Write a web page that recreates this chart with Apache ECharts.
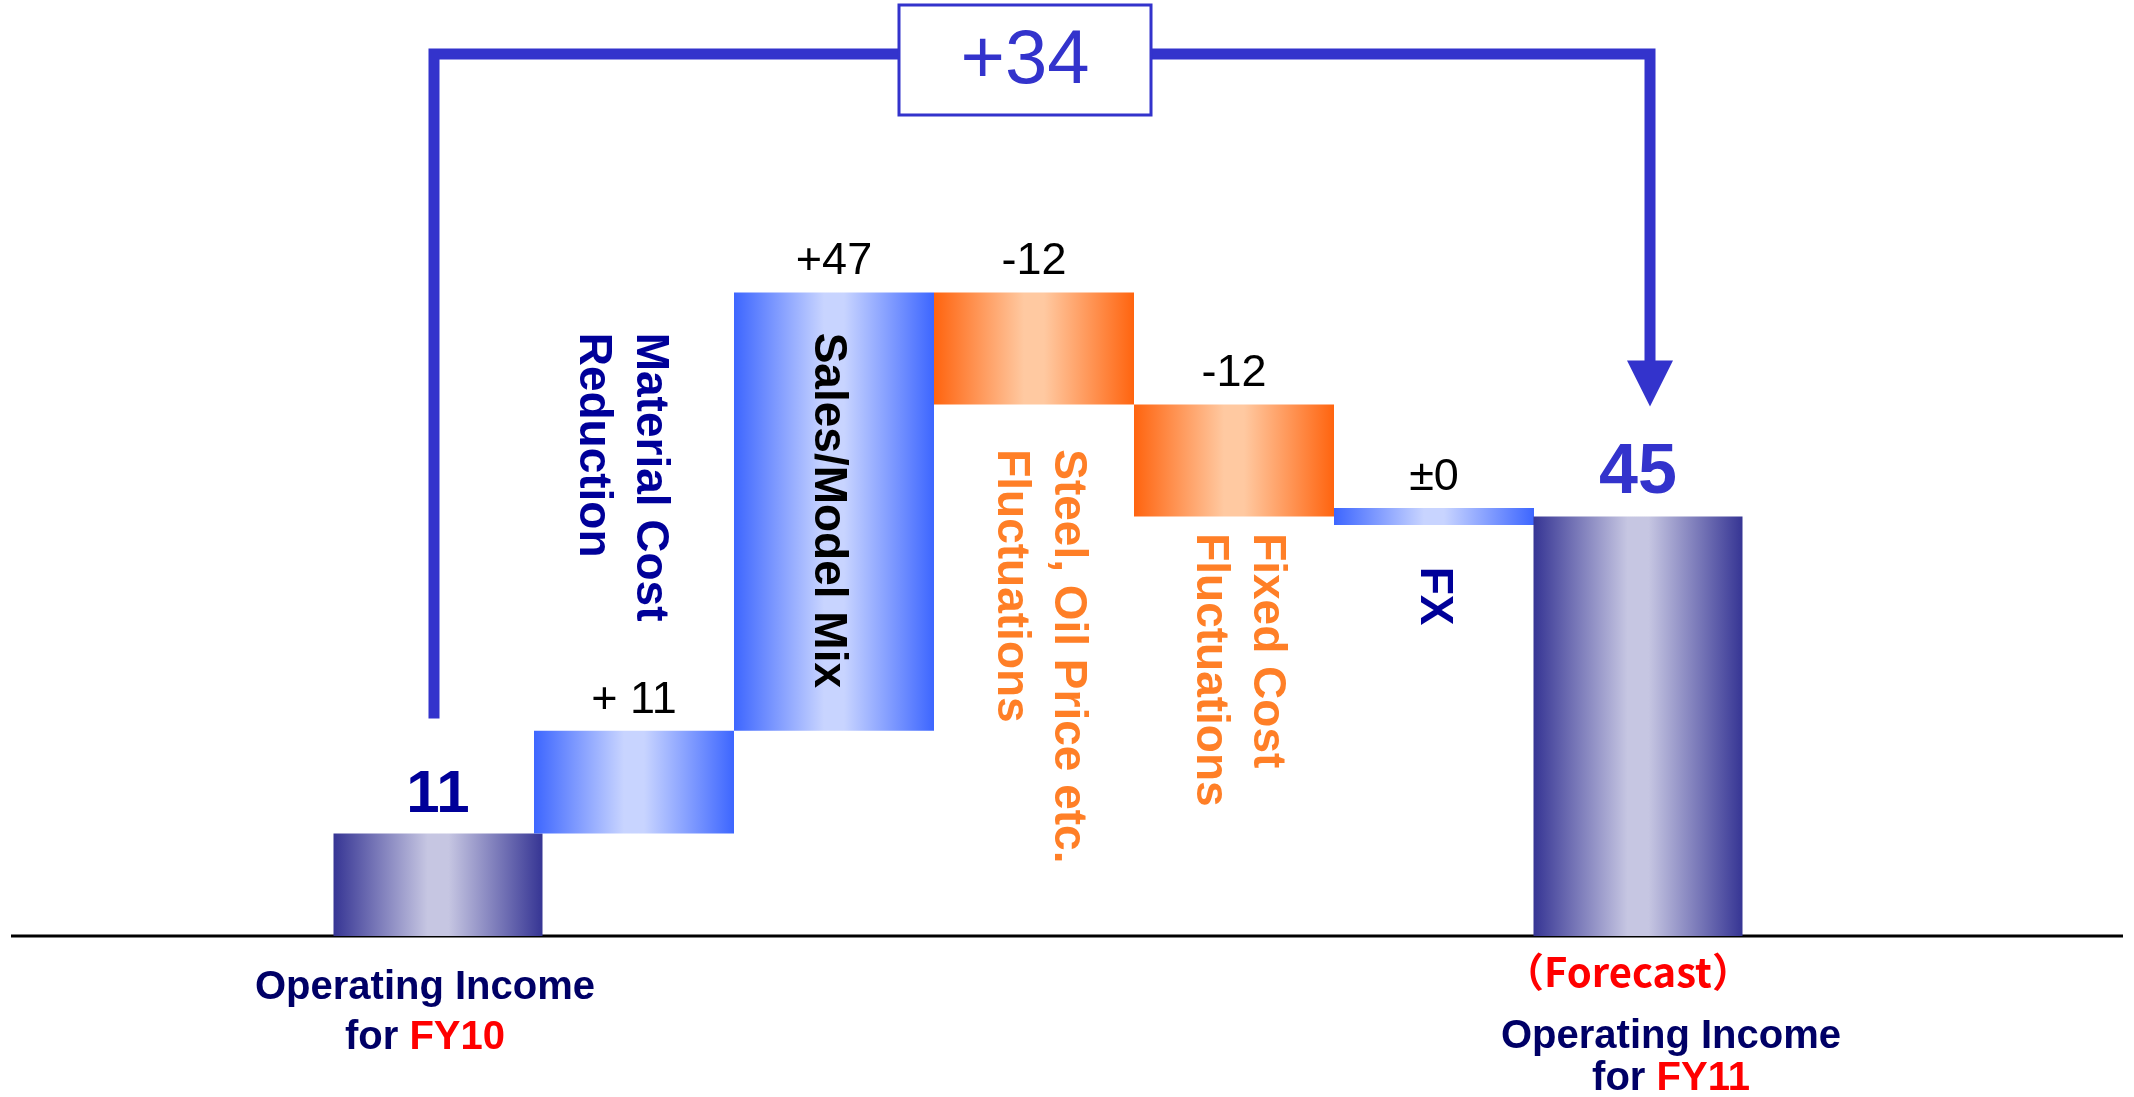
<!DOCTYPE html>
<html>
<head>
<meta charset="utf-8">
<script src="https://cdn.jsdelivr.net/npm/echarts@6/dist/echarts.min.js"></script>
<style>
html,body{margin:0;padding:0;background:#ffffff;}
#chart{width:2134px;height:1097px;}
</style>
</head>
<body>
<div id="chart"></div>
<script>
// ---------------- data ----------------
const categories = [
  'Operating Income for FY10',
  'Material Cost Reduction',
  'Sales/Model Mix',
  'Steel, Oil Price etc. Fluctuations',
  'Fixed Cost Fluctuations',
  'FX',
  'Operating Income for FY11'
];
const barKinds = ['total', 'up', 'up', 'down', 'down', 'up', 'total'];
const changeValues = [11, 11, 47, -12, -12, 0, 45];
const valueLabels = ['11', '+ 11', '+47', '-12', '-12', '±0', '45'];
const stepNames = [null, 'Material Cost\nReduction', 'Sales/Model Mix', 'Steel, Oil Price etc.\nFluctuations', 'Fixed Cost\nFluctuations', 'FX', null];
const bottomNames = ['{n|Operating Income}\n{n|for }{r|FY10}', null, null, null, null, null, '{n|Operating Income}\n{n|for }{r|FY11}'];
const bottomTags = [null, null, null, null, null, null, '（Forecast）'];
const netChange = 34;
const netChangeLabel = '+34';

// ---------------- styles / layout ----------------
const FONT = '"Liberation Sans", Arial, Helvetica, sans-serif';
const CJK = 'Noto Sans CJK JP';
const BLUE = '#3333CC';
const gradientColors = {
  total: ['#363594', '#C6C6E2'],
  up: ['#3D66FF', '#C8D4FF'],
  down: ['#FF640F', '#FFC9A1']
};
const valueLabelStyles = [
  { fontSize: 60, fontWeight: 'bold', fill: '#000099' },
  { fontSize: 45, fontWeight: 'normal', fill: '#000000' },
  { fontSize: 45, fontWeight: 'normal', fill: '#000000' },
  { fontSize: 45, fontWeight: 'normal', fill: '#000000' },
  { fontSize: 45, fontWeight: 'normal', fill: '#000000' },
  { fontSize: 45, fontWeight: 'normal', fill: '#000000' },
  { fontSize: 70, fontWeight: 'bold', fill: BLUE }
];
const stepNameColors = [null, '#000099', '#000000', '#FF7F27', '#FF7F27', '#000099', null];
const stepNameDx = [0, -13, -6, 5, 4, 0, 0];
const stepNameTopLevel = [0, 64.7, 64.7, 52.2, 43.2, 39.6, 0];
const bottomNameDx = [-9, 0, 0, 0, 0, 0, 37];
const bottomNameTop = [27, 0, 0, 0, 0, 0, 80];
const bottomNameLineHeight = [50, 0, 0, 0, 0, 0, 42];

function makeGradient(kind) {
  const [edge, center] = gradientColors[kind];
  return new echarts.graphic.LinearGradient(0, 0, 1, 0, [
    { offset: 0, color: edge },
    { offset: 0.45, color: center },
    { offset: 0.55, color: center },
    { offset: 1, color: edge }
  ]);
}

// waterfall ranges from the values
let running = 0;
const barRanges = changeValues.map((v, i) => {
  if (barKinds[i] === 'total') { running = v; return [i, 0, v]; }
  const start = running;
  running += v;
  return [i, start, running];
});

function renderBar(params, api) {
  const i = api.value(0);
  const lo = api.value(1);
  const hi = api.value(2);
  const kind = barKinds[i];
  const band = api.size([1, 0])[0];
  const isTotal = kind === 'total';
  const w = band * (isTotal ? 1.045 : 1);
  const center = api.coord([i, 0])[0];
  const cx = center + (isTotal ? 4 : 0);
  let yTop = api.coord([i, Math.max(lo, hi)])[1];
  let yBot = api.coord([i, Math.min(lo, hi)])[1];
  const minH = 17;
  if (yBot - yTop < minH) {
    const m = (yTop + yBot) / 2;
    yTop = m - minH / 2;
    yBot = m + minH / 2;
  }
  const children = [{
    type: 'rect',
    shape: { x: cx - w / 2, y: yTop, width: w, height: yBot - yTop },
    style: { fill: makeGradient(kind) }
  }];
  const vs = valueLabelStyles[i];
  children.push({
    type: 'text',
    x: cx,
    y: yTop - 8,
    style: {
      text: valueLabels[i],
      fontFamily: FONT, fontSize: vs.fontSize, fontWeight: vs.fontWeight,
      fill: vs.fill, align: 'center', verticalAlign: 'bottom'
    }
  });
  if (stepNames[i]) {
    children.push({
      type: 'text',
      x: center + stepNameDx[i],
      y: api.coord([i, stepNameTopLevel[i]])[1],
      rotation: -Math.PI / 2,
      style: {
        text: stepNames[i],
        fontFamily: FONT, fontSize: 46, fontWeight: 'bold',
        fill: stepNameColors[i], align: 'left', verticalAlign: 'middle',
        lineHeight: 57
      }
    });
  }
  const baseY = api.coord([i, 0])[1];
  if (bottomNames[i]) {
    const lh = bottomNameLineHeight[i];
    children.push({
      type: 'text',
      x: center + bottomNameDx[i],
      y: baseY + bottomNameTop[i],
      style: {
        text: bottomNames[i],
        align: 'center', verticalAlign: 'top',
        rich: {
          n: { fontFamily: FONT, fontSize: 40, fontWeight: 'bold', fill: '#000066', lineHeight: lh },
          r: { fontFamily: FONT, fontSize: 40, fontWeight: 'bold', fill: '#FF0000', lineHeight: lh }
        }
      }
    });
  }
  if (bottomTags[i]) {
    children.push({
      type: 'text',
      x: center - 6,
      y: baseY + 16,
      style: {
        text: bottomTags[i],
        fontFamily: CJK, fontSize: 40, fontWeight: 'bold', fill: '#FF0000',
        align: 'center', verticalAlign: 'top'
      }
    });
  }
  return { type: 'group', children: children };
}

function renderBracket(params, api) {
  const from = api.value(0);
  const to = api.value(1);
  const startTop = api.coord([from, barRanges[from][2]])[1];
  const endTop = api.coord([to, barRanges[to][2]])[1];
  const xl = api.coord([from, 0])[0];
  const xr = api.coord([to, 0])[0] + 16;
  const hy = params.coordSys.y - 136;
  const y0 = startTop - 115;
  const tip = endTop - 110;
  const head = 46;
  const zeroY = api.coord([from, 0])[1];
  const bx = (xl + xr) / 2 - 17;
  const by = hy + 6;
  return {
    type: 'group',
    children: [
      { type: 'line', shape: { x1: 11, y1: zeroY, x2: api.getWidth() - 11, y2: zeroY },
        style: { stroke: '#000000', lineWidth: 3 } },
      { type: 'polyline', shape: { points: [[xl, y0], [xl, hy], [xr, hy], [xr, tip - head + 2]] },
        style: { stroke: BLUE, lineWidth: 11, fill: null, lineJoin: 'miter' } },
      { type: 'polygon', shape: { points: [[xr - head / 2, tip - head], [xr + head / 2, tip - head], [xr, tip]] },
        style: { fill: BLUE } },
      { type: 'rect', shape: { x: bx - 126, y: by - 55, width: 252, height: 110 },
        style: { fill: '#ffffff', stroke: BLUE, lineWidth: 3 } },
      { type: 'text', x: bx, y: by + 2,
        style: { text: netChangeLabel, fontFamily: FONT, fontSize: 76, fontWeight: 'normal',
                 fill: BLUE, align: 'center', verticalAlign: 'middle' } }
    ]
  };
}

const chart = echarts.init(document.getElementById('chart'), null, { renderer: 'canvas' });
chart.setOption({
  backgroundColor: '#ffffff',
  animation: false,
  grid: { left: 334, right: 400, top: 190, bottom: 161 },
  xAxis: { type: 'category', data: categories, show: false },
  yAxis: { type: 'value', min: 0, max: 80, show: false },
  series: [
    {
      type: 'custom',
      name: 'Change',
      z: 1,
      clip: false,
      data: [[0, 6, netChange]],
      encode: { x: 0, y: 2 },
      renderItem: renderBracket
    },
    {
      type: 'custom',
      name: 'Operating Income',
      z: 2,
      clip: false,
      data: barRanges,
      encode: { x: 0, y: [1, 2] },
      renderItem: renderBar
    }
  ]
});
</script>
</body>
</html>
